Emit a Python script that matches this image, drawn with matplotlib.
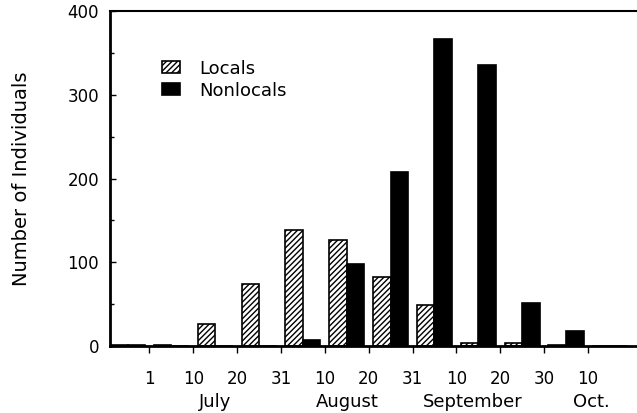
import numpy as np
import matplotlib
matplotlib.use("Agg")
import matplotlib.pyplot as plt

# ten-day periods, tick labels sit on the period boundaries
tick_labels = ["1", "10", "20", "31", "10", "20", "31", "10", "20", "30", "10"]
months = ["July", "August", "September", "Oct."]
month_pos = [2.5, 5.52, 8.37, 11.09]

# counts per period (period 0 is the one before 1 July)
locals_n    = [1, 1, 26, 74, 138, 127, 82, 49, 4, 3, 1, 0]
nonlocals_n = [1, 0, 0, 0, 7, 98, 208, 367, 335, 51, 18, 0]

plt.rcParams["hatch.linewidth"] = 1.0
plt.rcParams["font.family"] = "DejaVu Sans"

fig = plt.figure(figsize=(6.37, 4.13), dpi=100)
ax = fig.add_axes([110 / 637, 67 / 413, 527 / 637, 335 / 413])

x = np.arange(len(locals_n))
w = 0.4
ax.bar(x + 0.5 - w / 2, locals_n, w, facecolor="white", edgecolor="black",
       hatch="//////", linewidth=1.2, label="Locals")
ax.bar(x + 0.5 + w / 2, nonlocals_n, w, facecolor="black", edgecolor="black",
       linewidth=1.2, label="Nonlocals")

ax.set_xlim(0.1, 12.12)
ax.set_ylim(0, 400)

ax.set_xticks(np.arange(1, len(tick_labels) + 1))
ax.set_xticklabels(tick_labels, fontsize=12)
ax.tick_params(axis="x", direction="out", length=5, width=1, pad=12)

ax.set_yticks([0, 100, 200, 300, 400])
ax.set_yticks([50, 150, 250, 350], minor=True)
ax.tick_params(axis="y", which="major", direction="in", length=4, width=1,
               labelsize=12, pad=8)
ax.tick_params(axis="y", which="minor", direction="in", length=3, width=1)

for m, p in zip(months, month_pos):
    ax.text(p, -0.14, m, transform=ax.get_xaxis_transform(), ha="center",
            va="top", fontsize=13)

ax.set_ylabel("Number of Individuals", fontsize=14, labelpad=26)

ax.spines["right"].set_visible(False)
ax.spines["left"].set_linewidth(2)
ax.spines["bottom"].set_linewidth(2)
ax.spines["top"].set_linewidth(1.5)

ax.legend(loc="upper left", bbox_to_anchor=(0.081, 0.882), frameon=False,
          fontsize=13, handlelength=1.0, handleheight=0.65, handletextpad=1.1,
          borderpad=0, labelspacing=0.22)

fig.savefig("out.png", dpi=100)
